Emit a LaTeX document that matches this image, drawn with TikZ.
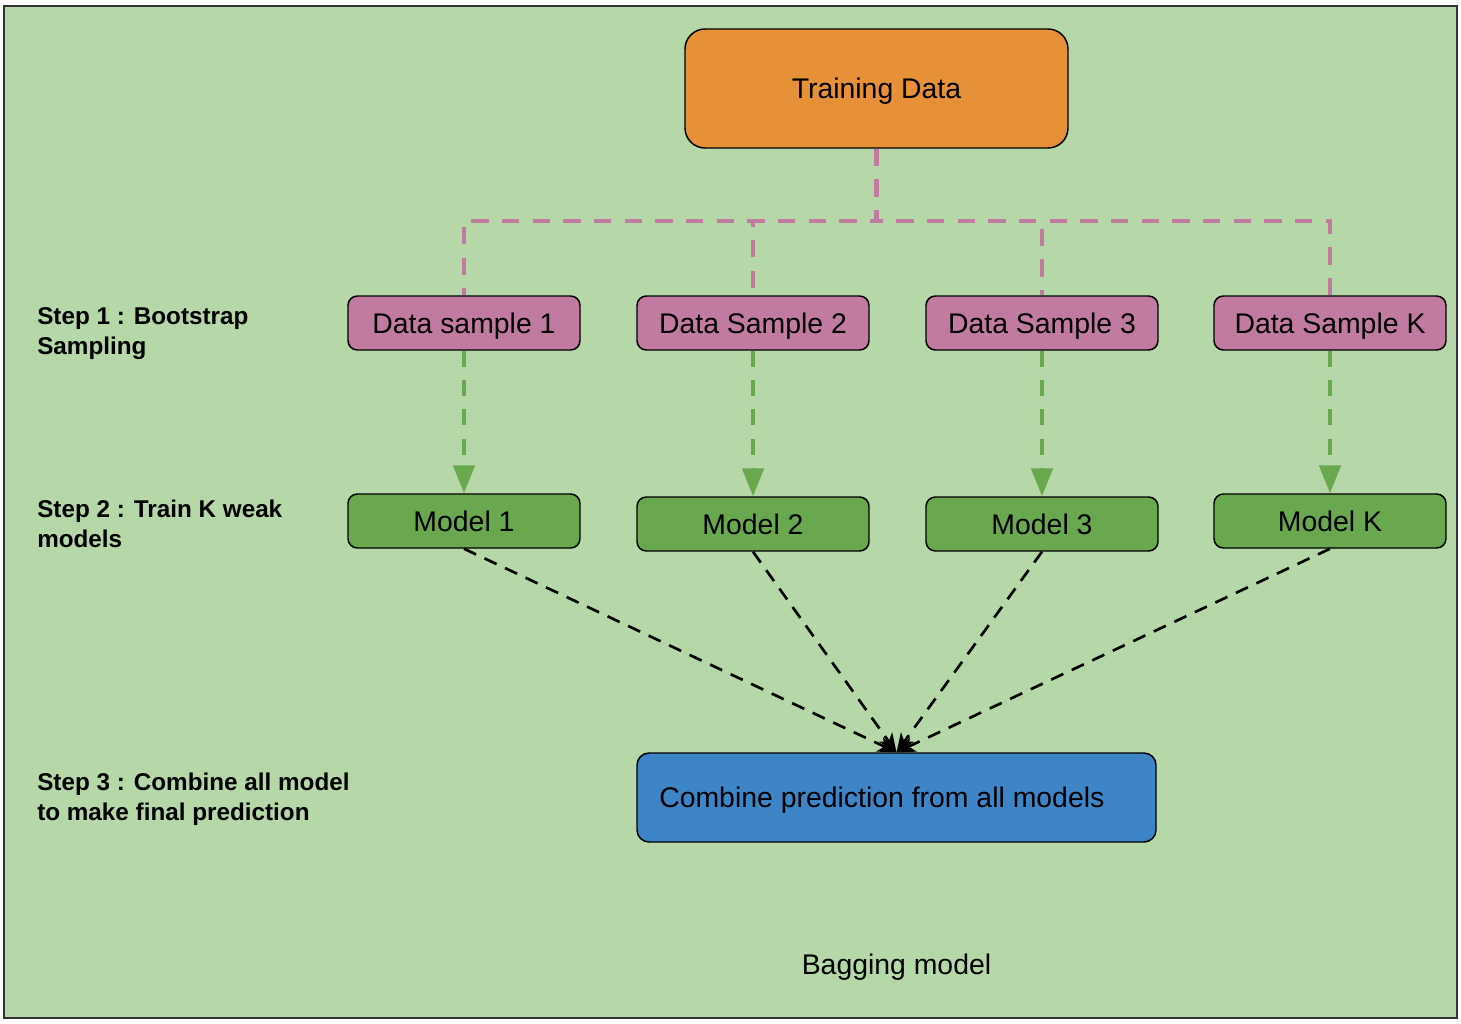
\documentclass[tikz,border=0pt]{standalone}
\usepackage{fontspec}
\setmainfont{Liberation Sans}
\usetikzlibrary{arrows.meta}
\definecolor{bgg}{HTML}{B6D7A8}
\definecolor{orng}{HTML}{E69138}
\definecolor{pnk}{HTML}{C27BA0}
\definecolor{mgrn}{HTML}{6AA84F}
\definecolor{blu}{HTML}{3D85C6}
\definecolor{frm}{HTML}{333333}
\tikzset{
  box/.style={draw=black, line width=1.1pt, rounded corners=7pt, inner sep=0pt,
    font=\fontsize{21.3}{25}\selectfont, text=black, text height=15.5pt, text depth=0pt},
  sample/.style={box, fill=pnk, minimum width=174pt, minimum height=40.5pt},
  model/.style={box, fill=mgrn, minimum width=174pt, minimum height=40.5pt},
  steplabel/.style={anchor=west, align=left, inner sep=0pt,
    font=\fontsize{18.2}{22.5}\selectfont\bfseries},
  pinkedge/.style={draw=pnk, line width=3.2pt, dash pattern=on 13pt off 10pt},
  greenarrow/.style={draw=mgrn, line width=3pt, dash pattern=on 12pt off 10pt,
    -{Triangle[length=21pt, width=16pt]}},
  blackarrow/.style={draw=black, line width=2pt, dash pattern=on 10pt off 7pt,
    -{Stealth[length=14pt, width=12pt, inset=4pt]}},
}
\begin{document}
\begin{tikzpicture}[x=0.75pt, y=-0.75pt]
\useasboundingbox (0,0) rectangle (1461,1024);
\fill[white] (0,0) rectangle (1461,1024);
\draw[fill=bgg, draw=frm, line width=2pt] (4,6) rectangle (1457,1018);

\node[box, fill=orng, rounded corners=15pt, minimum width=287.25pt, minimum height=89.25pt] (td) at (876.5,88.5) {Training Data};

\node[sample] (s1) at (464,323) {Data sample 1};
\node[sample] (s2) at (753,323) {Data Sample 2};
\node[sample] (s3) at (1042,323) {Data Sample 3};
\node[sample] (sk) at (1330,323) {Data Sample K};

\node[model] (m1) at (464,521) {Model 1};
\node[model] (m2) at (753,524) {Model 2};
\node[model] (m3) at (1042,524) {Model 3};
\node[model] (mk) at (1330,521) {Model K};

\node[box, fill=blu, rounded corners=9pt, minimum width=389.25pt, minimum height=66.75pt] (comb) at (896.5,797.5) {Combine prediction from all models\kern22pt\mbox{}};

\node[steplabel] (l1) at (37,334) {Step 1 : Bootstrap\\Sampling};
\node[steplabel] (l2) at (37,524) {Step 2 : Train K weak\\models};
\node[steplabel] (l3) at (37,799) {Step 3 : Combine all model\\to make final prediction};

\node[inner sep=0pt, font=\fontsize{21.3}{25}\selectfont, text height=15.5pt, text depth=0pt] (cap) at (896.5,964) {Bagging model};

\coordinate (split) at (876.5,221);
\draw[pinkedge] (td.south) -- (split) -| (s1.north);
\draw[pinkedge] (td.south) -- (split) -| (s2.north);
\draw[pinkedge] (td.south) -- (split) -| (s3.north);
\draw[pinkedge] (td.south) -- (split) -| (sk.north);

\draw[greenarrow] (s1.south) -- (m1.north);
\draw[greenarrow] (s2.south) -- (m2.north);
\draw[greenarrow] (s3.south) -- (m3.north);
\draw[greenarrow] (sk.south) -- (mk.north);

\draw[blackarrow] (m1.south) -- (comb.north);
\draw[blackarrow] (m2.south) -- (comb.north);
\draw[blackarrow] (m3.south) -- (comb.north);
\draw[blackarrow] (mk.south) -- (comb.north);
\end{tikzpicture}
\end{document}
